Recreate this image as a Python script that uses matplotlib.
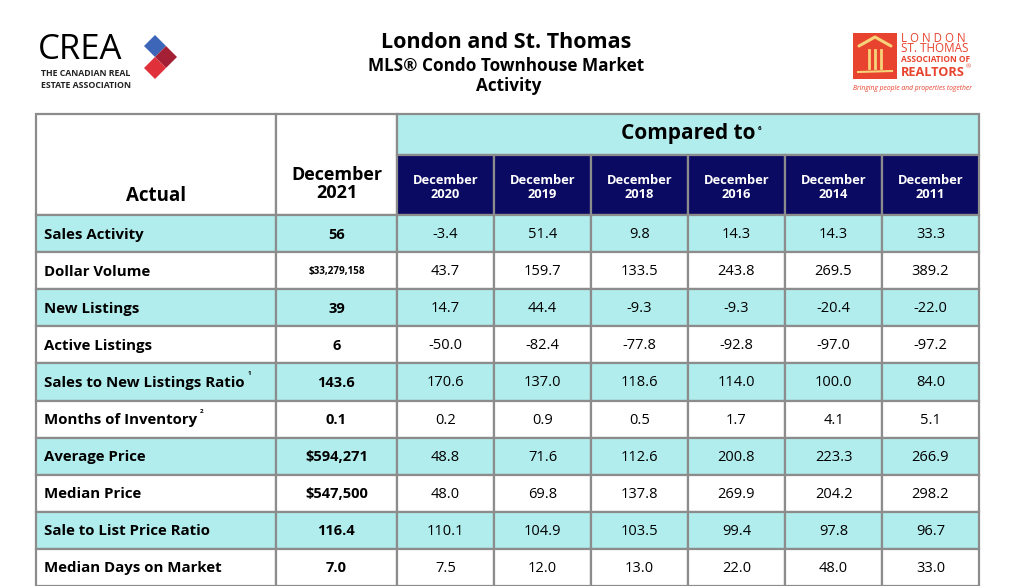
import matplotlib
matplotlib.use("Agg")
import matplotlib.pyplot as plt
from matplotlib.patches import Rectangle, Polygon

plt.rcParams['font.family'] = ['Open Sans', 'DejaVu Sans']

# table data
row_labels = ["Sales Activity", "Dollar Volume", "New Listings", "Active Listings",
              "Sales to New Listings Ratio", "Months of Inventory", "Average Price",
              "Median Price", "Sale to List Price Ratio", "Median Days on Market"]
row_notes = ["", "", "", "", "1", "2", "", "", "", ""]
actual = ["56", "$33,279,158", "39", "6", "143.6", "0.1", "$594,271",
          "$547,500", "116.4", "7.0"]
periods = ["December\n2020", "December\n2019", "December\n2018",
           "December\n2016", "December\n2014", "December\n2011"]
dec2020 = ["-3.4", "43.7", "14.7", "-50.0", "170.6", "0.2", "48.8", "48.0", "110.1", "7.5"]
dec2019 = ["51.4", "159.7", "44.4", "-82.4", "137.0", "0.9", "71.6", "69.8", "104.9", "12.0"]
dec2018 = ["9.8", "133.5", "-9.3", "-77.8", "118.6", "0.5", "112.6", "137.8", "103.5", "13.0"]
dec2016 = ["14.3", "243.8", "-9.3", "-92.8", "114.0", "1.7", "200.8", "269.9", "99.4", "22.0"]
dec2014 = ["14.3", "269.5", "-20.4", "-97.0", "100.0", "4.1", "223.3", "204.2", "97.8", "48.0"]
dec2011 = ["33.3", "389.2", "-22.0", "-97.2", "84.0", "5.1", "266.9", "298.2", "96.7", "33.0"]
compare = [dec2020, dec2019, dec2018, dec2016, dec2014, dec2011]

CYAN = "#b2edee"
NAVY = "#0b0a63"
GRID = "#8c8c8c"

W, H = 1014, 586
fig = plt.figure(figsize=(W / 100, H / 100), dpi=100)
ax = fig.add_axes([0, 0, 1, 1])
ax.set_xlim(0, W)
ax.set_ylim(H, 0)
ax.axis('off')
renderer = fig.canvas.get_renderer()


def right_edge(t):
    # right edge of a text in data (pixel) coords
    bb = t.get_window_extent(renderer=renderer)
    return ax.transData.inverted().transform((bb.x1, bb.y1))[0]


# column edges (pixels)
x_lab, x_act, x_cmp, x_end = 36, 276, 397, 979
cw = (x_end - x_cmp) / len(periods)
y_top, y_sub, y_body = 114, 155, 215
rh = 37.1


def cell(x0, y0, w, h, fc):
    ax.add_patch(Rectangle((x0, y0), w, h, facecolor=fc, edgecolor=GRID, lw=1.6, zorder=1))


# header cells
cell(x_lab, y_top, x_act - x_lab, y_body - y_top, "white")
cell(x_act, y_top, x_cmp - x_act, y_body - y_top, "white")
cell(x_cmp, y_top, x_end - x_cmp, y_sub - y_top, CYAN)
ax.text(x_lab + (x_act - x_lab) / 2, 196, "Actual", ha='center', va='center',
        fontsize=13.5, fontweight='bold')
ax.text(x_act + (x_cmp - x_act) / 2, 184, "December\n2021", ha='center', va='center',
        fontsize=13, fontweight='bold', linespacing=1.05)
t = ax.text((x_cmp + x_end) / 2, 134, "Compared to", ha='center', va='center',
            fontsize=15, fontweight='bold')
ax.text(right_edge(t) + 3, 128, "6", ha='left', va='center', fontsize=4.5,
        fontweight='bold')
for j, p in enumerate(periods):
    x0 = x_cmp + j * cw
    cell(x0, y_sub, cw, y_body - y_sub, NAVY)
    ax.text(x0 + cw / 2, 188, p, ha='center', va='center', color='white',
            fontsize=9.3, fontweight='bold', linespacing=1.1)

# body rows
for i, lab in enumerate(row_labels):
    y0 = y_body + i * rh
    fc = CYAN if i % 2 == 0 else "white"
    cell(x_lab, y0, x_act - x_lab, rh, fc)
    cell(x_act, y0, x_cmp - x_act, rh, fc)
    yc = y0 + rh / 2 + 1
    t = ax.text(x_lab + 8, yc, lab, ha='left', va='center', fontsize=10.8, fontweight='bold')
    if row_notes[i]:
        ax.text(right_edge(t) + 3, yc - 9, row_notes[i], ha='left', va='center',
                fontsize=4.5, fontweight='bold')
    fs = 7.1 if actual[i].startswith("$3") else 10.5
    ax.text((x_act + x_cmp) / 2, yc, actual[i], ha='center', va='center',
            fontsize=fs, fontweight='bold')
    for j, col in enumerate(compare):
        x0 = x_cmp + j * cw
        cell(x0, y0, cw, rh, fc)
        ax.text(x0 + cw / 2, yc, col[i], ha='center', va='center', fontsize=10.5)

# titles
ax.text(506, 43, "London and St. Thomas", ha='center', va='center',
        fontsize=15.5, fontweight='bold')
ax.text(506, 66, "MLS® Condo Townhouse Market", ha='center', va='center',
        fontsize=12.3, fontweight='bold')
ax.text(509, 86, "Activity", ha='center', va='center', fontsize=12.3, fontweight='bold')

# CREA logo
ax.text(38, 50, "CREA", ha='left', va='center', fontsize=25, color='black')
ax.text(41, 74, "THE CANADIAN REAL", ha='left', va='center', fontsize=6.3, fontweight='bold',
        color="#222222")
ax.text(41, 85, "ESTATE ASSOCIATION", ha='left', va='center', fontsize=6.3, fontweight='bold',
        color="#222222")
for (cx, cy), c in zip([(155, 46), (166, 57), (155, 68)], ["#3e66b8", "#a32035", "#e0313a"]):
    d = 11
    ax.add_patch(Polygon([(cx - d, cy), (cx, cy - d), (cx + d, cy), (cx, cy + d)],
                         closed=True, facecolor=c, edgecolor='none', zorder=2))

# LSTAR logo
RED = "#e8432e"
ax.add_patch(Rectangle((853, 33), 44, 46, facecolor=RED, edgecolor='none'))
ax.plot([859, 875, 891], [46, 37, 46], color="#f6d27a", lw=2.2, solid_capstyle='round')
for xx in (869, 875, 881):
    ax.plot([xx, xx], [50, 68], color="#f6d27a", lw=2)
ax.plot([858, 892], [72, 71], color="#f6d27a", lw=1.5)
ax.text(901, 38, "L O N D O N", ha='left', va='center', fontsize=8.3, color=RED)
ax.text(901, 49, "ST. THOMAS", ha='left', va='center', fontsize=8.4, color=RED)
ax.text(901, 60, "ASSOCIATION OF", ha='left', va='center', fontsize=6,
        fontweight='bold', color=RED)
t = ax.text(901, 72, "REALTORS", ha='left', va='center', fontsize=9.2,
            fontweight='bold', color=RED)
ax.text(right_edge(t) + 1, 67, "®", ha='left', va='center', fontsize=4.5, color=RED)
ax.text(853, 88, "Bringing people and properties together", ha='left', va='center',
        fontsize=4.9, style='italic', color=RED)

fig.savefig("out.png", dpi=100)
